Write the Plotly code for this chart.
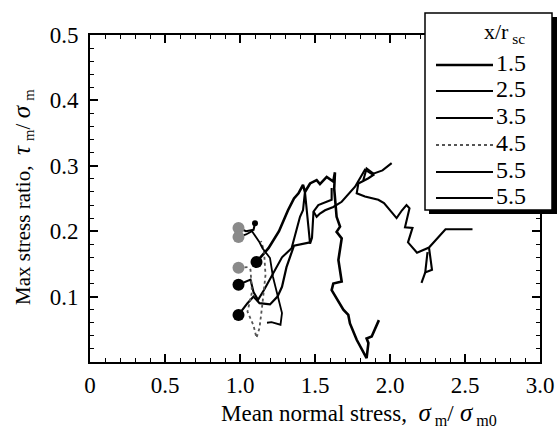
import plotly.graph_objects as go

# ---------------- data ----------------
series_labels = ["1.5", "2.5", "3.5", "4.5", "5.5", "5.5"]

# x/r_sc = 1.5
x_15 = [1.11, 1.15, 1.19, 1.26, 1.32, 1.36, 1.39, 1.42, 1.433, 1.467, 1.511, 1.533, 1.578, 1.622, 1.633,
        1.628, 1.633, 1.644, 1.667, 1.644, 1.678, 1.656, 1.678, 1.622, 1.611, 1.689, 1.722, 1.733, 1.778,
        1.844, 1.856, 1.844, 1.878, 1.926]
y_15 = [0.153, 0.163, 0.174, 0.200, 0.232, 0.250, 0.258, 0.271, 0.260, 0.273, 0.278, 0.272, 0.283, 0.276, 0.290,
        0.265, 0.253, 0.222, 0.207, 0.199, 0.189, 0.156, 0.123, 0.120, 0.110, 0.080, 0.072, 0.059, 0.034,
        0.006, 0.029, 0.036, 0.039, 0.064]

# x/r_sc = 2.5
x_25 = [0.99, 1.05, 1.09, 1.13, 1.20, 1.25, 1.28, 1.31, 1.36, 1.467]
y_25 = [0.072, 0.090, 0.100, 0.090, 0.088, 0.100, 0.115, 0.145, 0.178, 0.183]

# x/r_sc = 3.5
x_35 = [0.99, 1.07, 1.09, 1.12, 1.16, 1.22, 1.28, 1.344, 1.40, 1.42, 1.433, 1.456, 1.467, 1.48, 1.49,
        1.522, 1.578, 1.611, 1.611, None,
        1.49, 1.511, 1.533, 1.567, 1.622, 1.678, 1.767, 1.833, 1.889, 1.856, 1.789, 1.778, 1.833, 1.922,
        1.96, 2.044, 2.08, 2.11, 2.13, 2.10, 2.15, 2.12, 2.18, 2.26, 2.37, 2.55, None,
        2.26, 2.28, 2.235, 2.25, None, 2.235, 2.21, None,
        1.822, 1.844, 1.889, 1.95, 2.011]
y_35 = [0.118, 0.126, 0.107, 0.095, 0.110, 0.135, 0.160, 0.174, 0.222, 0.232, 0.260, 0.207, 0.181, 0.190, 0.230,
        0.240, 0.245, 0.248, 0.266, None,
        0.230, 0.222, 0.227, 0.232, 0.237, 0.245, 0.268, 0.294, 0.286, 0.281, 0.273, 0.258, 0.253, 0.248,
        0.243, 0.220, 0.232, 0.240, 0.235, 0.206, 0.205, 0.183, 0.167, 0.175, 0.203, 0.203, None,
        0.175, 0.141, 0.137, 0.168, None, 0.137, 0.121, None,
        0.278, 0.296, 0.288, 0.293, 0.304]

# x/r_sc = 4.5 (dotted)
x_45 = [0.99, 1.05, 1.07, 1.08, 1.05, 1.09, 1.11, 1.13, 1.15, 1.17, 1.16, 1.14]
y_45 = [0.144, 0.145, 0.141, 0.107, 0.077, 0.056, 0.037, 0.052, 0.090, 0.133, 0.170, 0.185]

# x/r_sc = 5.5 (a)
x_55a = [0.99, 1.04, 1.09, 1.10]
y_55a = [0.205, 0.200, 0.202, 0.212]

# x/r_sc = 5.5 (b)
x_55b = [0.99, 1.04, 1.08, 1.13, 1.15, 1.20, 1.22, 1.25, 1.28, 1.27, 1.21, 1.18]
y_55b = [0.191, 0.195, 0.200, 0.183, 0.174, 0.159, 0.130, 0.100, 0.075, 0.057, 0.061, 0.060]

x_tick_vals = [0, 0.5, 1.0, 1.5, 2.0, 2.5, 3.0]
x_tick_text = ["0", "0.5", "1.0", "1.5", "2.0", "2.5", "3.0"]
y_tick_vals = [0.1, 0.2, 0.3, 0.4, 0.5]
y_tick_text = ["0.1", "0.2", "0.3", "0.4", "0.5"]

# ---------------- style ----------------
FONT = "Liberation Serif"
series_x = [x_15, x_25, x_35, x_45, x_55a, x_55b]
series_y = [y_15, y_25, y_35, y_45, y_55a, y_55b]
line_styles = [
    dict(color="black", width=2.6, dash="solid"),
    dict(color="black", width=2.2, dash="solid"),
    dict(color="black", width=2.1, dash="solid"),
    dict(color="#555555", width=1.8, dash="dot"),
    dict(color="black", width=2.1, dash="solid"),
    dict(color="black", width=1.8, dash="solid"),
]
marker_colors = ["black", "black", "black", "#8a8a8a", "#8a8a8a", "#8a8a8a"]

fig = go.Figure()
for i in range(len(series_labels)):
    fig.add_trace(go.Scatter(
        x=series_x[i], y=series_y[i], mode="lines", name="x/r_sc = " + series_labels[i],
        line=line_styles[i], connectgaps=False, showlegend=False, hoverinfo="skip"))
# start markers
for i in range(len(series_labels)):
    fig.add_trace(go.Scatter(
        x=[series_x[i][0]], y=[series_y[i][0]], mode="markers", showlegend=False,
        marker=dict(size=12, color=marker_colors[i], line=dict(width=0)), hoverinfo="skip"))
fig.add_trace(go.Scatter(x=[x_55a[-1]], y=[y_55a[-1]], mode="markers", showlegend=False,
                         marker=dict(size=6, color="black"), hoverinfo="skip"))

W, H = 558, 430
L, R, T, B = 90, 18, 35, 68
PW, PH = W - L - R, H - T - B


def px(xp):
    return (xp - L) / PW


def py(yp):
    return (H - B - yp) / PH


axis_common = dict(
    showline=True, linecolor="black", linewidth=1.6, mirror="ticks",
    ticks="inside", ticklen=8, tickwidth=1.5, tickcolor="black",
    showgrid=False, zeroline=False,
    tickfont=dict(family=FONT, size=23, color="black"),
)

fig.update_xaxes(range=[0, 3], tickvals=x_tick_vals, ticktext=x_tick_text,
                 minor=dict(ticks="inside", ticklen=4, tickwidth=1.2, dtick=0.1, tickcolor="black"),
                 ticklabelstandoff=2, **axis_common)
fig.update_yaxes(range=[0, 0.5], tickvals=y_tick_vals, ticktext=y_tick_text,
                 minor=dict(ticks="inside", ticklen=4, tickwidth=1.2, dtick=0.02, tickcolor="black"),
                 ticklabelstandoff=5, **axis_common)

shapes = []
annotations = []
# legend box with shadow
shapes.append(dict(type="rect", xref="paper", yref="paper", x0=px(429), x1=px(557), y0=py(214), y1=py(17),
                   fillcolor="black", line=dict(width=0), layer="above"))
shapes.append(dict(type="rect", xref="paper", yref="paper", x0=px(425), x1=px(552), y0=py(210), y1=py(13),
                   fillcolor="white", line=dict(color="black", width=1.5), layer="above"))
annotations.append(dict(xref="paper", yref="paper", x=px(482), y=py(33), xanchor="left", yanchor="middle",
                        text="x/r<sub> sc</sub>", showarrow=False,
                        font=dict(family=FONT, size=22, color="black")))
row_y = [63, 89, 116, 143, 170, 196]
for i, lab in enumerate(series_labels):
    ls = line_styles[i]
    shapes.append(dict(type="line", xref="paper", yref="paper", x0=px(436), x1=px(493),
                       y0=py(row_y[i] + 2), y1=py(row_y[i] + 2), layer="above",
                       line=dict(color=ls["color"], width=ls["width"], dash=ls["dash"])))
    annotations.append(dict(xref="paper", yref="paper", x=px(494), y=py(row_y[i]), xanchor="left",
                            yanchor="middle", text=lab, showarrow=False,
                            font=dict(family=FONT, size=24, color="black")))

NB = "\u00a0"
G = '<span style="font-size:25px"><i>{}</i></span>'
# axis titles
annotations.append(dict(xref="paper", yref="paper", x=px(219), y=py(397), xanchor="left", yanchor="top",
                        text="Mean normal stress," + NB * 2 + G.format("σ") + "<sub> m</sub>/"
                             + G.format(NB + "σ") + "<sub> m0</sub>",
                        showarrow=False, font=dict(family=FONT, size=23, color="black")))
annotations.append(dict(xref="paper", yref="paper", x=px(22), y=py(197), xanchor="center", yanchor="middle",
                        textangle=-90,
                        text="Max stress ratio," + NB * 2 + G.format("τ") + NB + "<sub>m</sub>/" + NB
                             + G.format("σ") + NB + "<sub>m</sub>",
                        showarrow=False, font=dict(family=FONT, size=21, color="black")))

fig.update_layout(
    width=W, height=H, margin=dict(l=L, r=R, t=T, b=B, autoexpand=False),
    paper_bgcolor="white", plot_bgcolor="white",
    shapes=shapes, annotations=annotations, showlegend=False,
    font=dict(family=FONT, color="black"),
)

fig.write_html("out.html")
